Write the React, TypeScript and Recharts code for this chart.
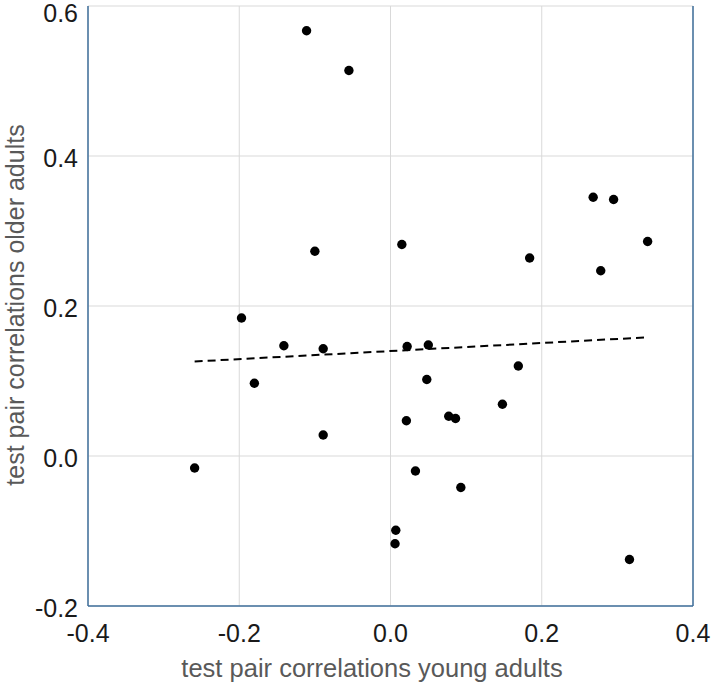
import { ScatterChart, Scatter, XAxis, YAxis, CartesianGrid, ReferenceLine, Label } from "recharts";

// young adults (x) vs older adults (y) test pair correlations
const youngCorr = [
  -0.111, -0.055, -0.1, 0.015, -0.197, -0.141, -0.089, 0.022, 0.05, -0.18,
  0.048, 0.021, 0.077, 0.086, -0.089, -0.259, 0.033, 0.093, 0.007, 0.006,
  0.316, 0.184, 0.278, 0.34, 0.169, 0.148, 0.268, 0.295,
];
const olderCorr = [
  0.567, 0.514, 0.273, 0.282, 0.184, 0.147, 0.143, 0.146, 0.148, 0.097,
  0.102, 0.047, 0.053, 0.05, 0.028, -0.016, -0.02, -0.042, -0.099, -0.117,
  -0.138, 0.264, 0.247, 0.286, 0.12, 0.069, 0.345, 0.342,
];

// fitted trend line endpoints
const trendX = [-0.259, 0.336];
const trendY = [0.126, 0.158];

const xTicks = [-0.4, -0.2, 0.0, 0.2, 0.4];
const yTicks = [-0.2, 0.0, 0.2, 0.4, 0.6];

const xLabel = "test pair correlations young adults";
const yLabel = "test pair correlations older adults";

const FONT = "'Liberation Sans', Arial, sans-serif";
const BORDER = "#41719c";

// y tick: keep the top label inside the picture
function YTick(props: any) {
  const { x, y, payload } = props;
  return (
    <text x={x} y={Math.max(y + 2, 13)} dy="0.355em" textAnchor="end" fontSize={25} fill="#1a1a1a" fontFamily={FONT}>
      {Number(payload.value).toFixed(1)}
    </text>
  );
}

export default function App() {
  const points = youngCorr.map((x, i) => ({ x, y: olderCorr[i] }));

  return (
    <div style={{ position: "absolute", left: 0, top: 0, background: "#fff" }}>
      <ScatterChart width={711} height={685} margin={{ top: 6, right: 18, bottom: 0, left: 0 }}>
        <CartesianGrid stroke="#d9d9d9" strokeWidth={1} />
        <XAxis
          type="number"
          dataKey="x"
          domain={[-0.4, 0.4]}
          ticks={xTicks}
          interval={0}
          allowDataOverflow
          height={79}
          tickSize={0}
          tickMargin={18}
          tickFormatter={(v: number) => v.toFixed(1)}
          tick={{ fontSize: 25, fill: "#1a1a1a", fontFamily: FONT }}
          axisLine={{ stroke: BORDER, strokeWidth: 1.5 }}
          tickLine={false}
        >
          <Label
            content={() => (
              <text x={372} y={677} textAnchor="middle" fontSize={25.5} fill="#595959" fontFamily={FONT}>
                {xLabel}
              </text>
            )}
          />
        </XAxis>
        <YAxis
          type="number"
          dataKey="y"
          domain={[-0.2, 0.6]}
          ticks={yTicks}
          interval={0}
          allowDataOverflow
          width={88}
          tickSize={0}
          tickMargin={10}
          tick={<YTick />}
          axisLine={{ stroke: BORDER, strokeWidth: 1.5 }}
          tickLine={false}
        >
          <Label
            content={() => (
              <text
                x={24}
                y={305}
                textAnchor="middle"
                fontSize={25}
                fill="#595959"
                fontFamily={FONT}
                transform="rotate(-90, 24, 305)"
              >
                {yLabel}
              </text>
            )}
          />
        </YAxis>
        <ReferenceLine x={0.4} stroke={BORDER} strokeWidth={1.5} />
        <ReferenceLine
          segment={[
            { x: trendX[0], y: trendY[0] },
            { x: trendX[1], y: trendY[1] },
          ]}
          stroke="#000"
          strokeWidth={2}
          strokeDasharray="8 5"
          ifOverflow="visible"
        />
        <Scatter
          data={points}
          isAnimationActive={false}
          shape={(props: any) => <circle cx={props.cx} cy={props.cy} r={4.7} fill="#000" />}
        />
      </ScatterChart>
    </div>
  );
}
